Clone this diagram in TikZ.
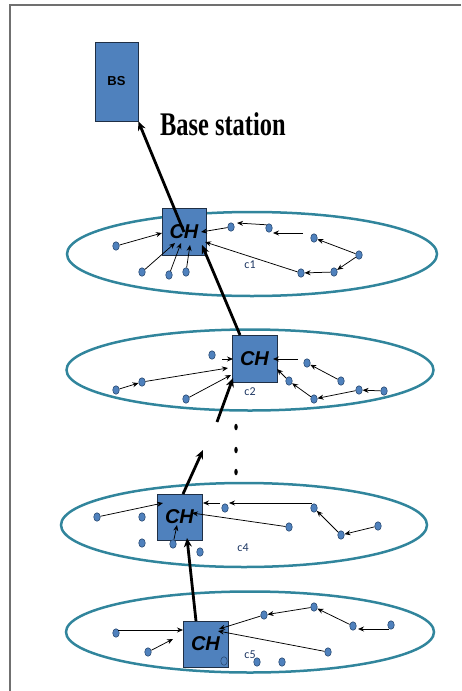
\documentclass[tikz,border=0pt]{standalone}
\usepackage{fontspec}
\setmainfont{Liberation Serif}
\newfontfamily\lsans{Liberation Sans}
\newfontfamily\carl{Carlito}
\usetikzlibrary{arrows.meta,shapes.geometric}
\definecolor{boxblue}{HTML}{4F81BD}
\definecolor{boxedge}{HTML}{1F2F45}
\definecolor{ringcol}{HTML}{31859C}
\definecolor{dotedge}{HTML}{2C4D75}
\definecolor{labcol}{HTML}{1F3864}
\definecolor{framecol}{HTML}{707070}
\begin{document}
\begin{tikzpicture}[x=1pt,y=-1pt,
 chbox/.style={draw=boxedge, fill=boxblue, line width=0.8pt, minimum width=44pt, minimum height=47pt, inner sep=0pt, font=\lsans\bfseries\itshape\fontsize{20}{20}\selectfont},
 sensor/.style={ellipse, draw=dotedge, fill=boxblue, line width=0.6pt, minimum width=6.5pt, minimum height=8.5pt, inner sep=0pt},
 ring/.style={ellipse, draw=ringcol, line width=2.5pt, inner sep=0pt},
 link/.style={draw=black, line width=0.75pt, -{Stealth[length=6pt,width=5pt]}},
 trunk/.style={draw=black, line width=2.8pt, -{Stealth[length=9pt,width=8pt]}},
 clabel/.style={font=\carl\fontsize{12}{12}\selectfont, text=labcol, inner sep=0pt},
 vdot/.style={ellipse, fill=black, minimum width=3.5pt, minimum height=6.5pt, inner sep=0pt}
]
\useasboundingbox (0,0) rectangle (461,691);
\draw[framecol, line width=2pt] (461,5) -- (10,5) -- (10,691);

% base station
\node[draw=boxedge, fill=boxblue, line width=0.8pt, minimum width=43pt, minimum height=79pt, inner sep=0pt, font=\lsans\bfseries\fontsize{13}{13}\selectfont] (bs) at (116.5,81.5) {BS};
\node[font=\bfseries\fontsize{33}{33}\selectfont, xscale=0.74, anchor=base west, inner sep=0pt] (bslabel) at (160,135) {Base station};

% rings
\node[ring, minimum width=370pt, minimum height=84pt] (ring1) at (252,254) {};
\node[ring, minimum width=367pt, minimum height=81pt] (ring2) at (250,370) {};
\node[ring, minimum width=366pt, minimum height=84pt] (ring4) at (244,525) {};
\node[ring, minimum width=368pt, minimum height=81pt] (ring5) at (250,632) {};

% cluster heads
\node[chbox] (ch1) at (184,232) {CH};
\node[chbox, minimum width=45pt] (ch2) at (254.5,358.5) {CH};
\node[chbox, minimum width=45pt, minimum height=46pt] (ch4) at (179.5,517) {CH};
\node[chbox, minimum width=45pt, minimum height=46pt] (ch5) at (205.5,644) {CH};

% ---- cluster 1
\node[sensor] (s11) at (116,246) {};
\node[sensor] (s12) at (142,272) {};
\node[sensor] (s13) at (169,275) {};
\node[sensor] (s14) at (186,272) {};
\node[sensor] (s15) at (231,227) {};
\node[sensor] (s16) at (269,228) {};
\node[sensor] (s17) at (314,238) {};
\node[sensor] (s18) at (359,255) {};
\node[sensor] (s19) at (334,272) {};
\node[sensor] (s110) at (301,273) {};
\coordinate (t11) at (162,233);
\coordinate (t12) at (175,243);
\coordinate (t13) at (181,243);
\coordinate (t14) at (190,245);
\coordinate (t15) at (201,232);
\coordinate (t16) at (237,223);
\coordinate (t17a) at (303,233);
\coordinate (t17b) at (273,233);
\coordinate (t110) at (205,242);
\draw[link] (s11) -- (t11);
\draw[link] (s12) -- (t12);
\draw[link] (s13) -- (t13);
\draw[link] (s14) -- (t14);
\draw[link] (s15) -- (t15);
\draw[link] (s16.north west) -- (t16);
\draw[link] (t17a) -- (t17b);
\draw[link] (s18) -- (s17);
\draw[link] (s18) -- (s19);
\draw[link] (s19) -- (s110);
\draw[link] (s110) -- (t110);
\node[clabel] (c1) at (250,265) {c1};

% ---- cluster 2
\node[sensor] (s21) at (212,355) {};
\node[sensor] (s22) at (116,390) {};
\node[sensor] (s23) at (142,382) {};
\node[sensor] (s24) at (186,399) {};
\node[sensor] (s25) at (307,363) {};
\node[sensor] (s26) at (341,381) {};
\node[sensor] (s27) at (289,381) {};
\node[sensor] (s28) at (314,399) {};
\node[sensor] (s29) at (359,390) {};
\node[sensor] (s210) at (384,391) {};
\coordinate (t21a) at (222,359);
\coordinate (t21b) at (233,359);
\coordinate (t23) at (228,368);
\coordinate (t24) at (231,375);
\coordinate (t25a) at (298,359);
\coordinate (t25b) at (273,359);
\coordinate (t27) at (277,369);
\draw[link] (t21a) -- (t21b);
\draw[link] (s22) -- (s23);
\draw[link] (s23) -- (t23);
\draw[link] (s24) -- (t24);
\draw[link] (t25a) -- (t25b);
\draw[link] (s26) -- (s25);
\draw[link] (s27) -- (t27);
\draw[link] (s28) -- (s27);
\draw[link] (s29) -- (s28);
\draw[link] (s210) -- (s29);
\node[clabel] (c2) at (250,392) {c2};

% ---- cluster 4
\node[sensor] (s41) at (97,517) {};
\node[sensor] (s42) at (142,517) {};
\node[sensor] (s43) at (142,543) {};
\node[sensor] (s44) at (173,544) {};
\node[sensor] (s45) at (200,552) {};
\node[sensor] (s46) at (225,508) {};
\node[sensor] (s47) at (314,508) {};
\node[sensor] (s48) at (289,527) {};
\node[sensor] (s49) at (341,535) {};
\node[sensor] (s410) at (378,526) {};
\coordinate (t41) at (163,503);
\coordinate (t44) at (177,525);
\coordinate (t46a) at (220,503);
\coordinate (t46b) at (203,503);
\coordinate (t47a) at (312,503);
\coordinate (t47b) at (229,503);
\coordinate (t48) at (192,513);
\draw[link] (s41) -- (t41);
\draw[link] (s44) -- (t44);
\draw[link] (t46a) -- (t46b);
\draw[link] (t47a) -- (t47b);
\draw[link] (s48) -- (t48);
\draw[link] (s49) -- (s47);
\draw[link] (s410) -- (s49);
\node[clabel] (c4) at (243,548) {c4};

% ---- cluster 5
\node[sensor] (s51) at (116,633) {};
\node[sensor] (s52) at (148,652) {};
\node[sensor] (s54) at (257,662) {};
\node[sensor] (s55) at (282,662) {};
\node[sensor] (s56) at (264,615) {};
\node[sensor] (s57) at (314,607) {};
\node[sensor] (s58) at (353,626) {};
\node[sensor] (s59) at (391,625) {};
\node[sensor] (s510) at (328,652) {};
\coordinate (t51a) at (118,630);
\coordinate (t51b) at (183,630);
\coordinate (t52) at (173,639);
\coordinate (t56) at (219,629);
\coordinate (t59a) at (389,629);
\coordinate (t59b) at (358,629);
\coordinate (t510) at (218,631);
\draw[link] (t51a) -- (t51b);
\draw[link] (s52) -- (t52);
\draw[link] (s56) -- (t56);
\draw[link] (s57) -- (s56);
\draw[link] (s58) -- (s57);
\draw[link] (t59a) -- (t59b);
\draw[link] (s510) -- (t510);
\node[sensor] (s53) at (224,661) {};
\node[clabel] (c5) at (250,655) {c5};

% ---- trunk (multi-hop) arrows
\coordinate (u2) at (240,335);
\coordinate (h1) at (202,245);
\coordinate (u3) at (217,422);
\coordinate (h2) at (233,378);
\coordinate (u4) at (183,494);
\coordinate (h4) at (203,450);
\coordinate (u5) at (196,621);
\coordinate (h5) at (187,538);
\draw[trunk] (ch1.center) -- (bs.south east);
\draw[trunk] (u2) -- (h1);
\draw[trunk] (u3) -- (h2);
\draw[trunk] (u4) -- (h4);
\draw[trunk] (u5) -- (h5);

\node[vdot] (v1) at (236,427) {};
\node[vdot] (v2) at (236,450) {};
\node[vdot] (v3) at (236,472) {};
\end{tikzpicture}
\end{document}
